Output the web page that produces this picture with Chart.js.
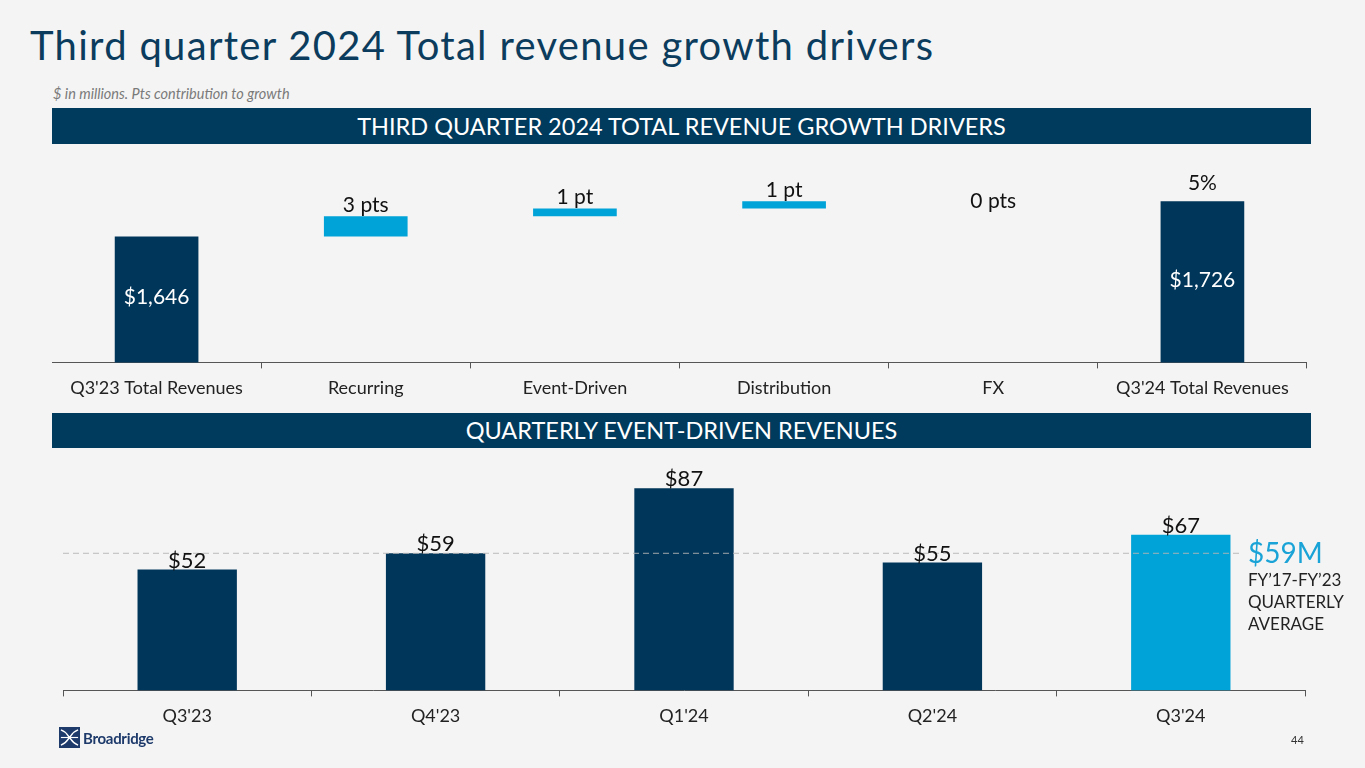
<!DOCTYPE html>
<html lang="en">
<head>
    <meta charset="UTF-8">
    <title>Third quarter 2024 Total revenue growth drivers</title>
    <style>
        body { margin: 0; background: #f4f4f4; font-family: Lato, "Open Sans", sans-serif; }
        #page { position: relative; width: 1365px; height: 768px; overflow: hidden; background: #f4f4f4; }
        h1 { position: absolute; left: 30px; top: 21px; margin: 0; font-size: 40px; font-weight: 400; color: #0b3c5d; letter-spacing: 1.3px; white-space: nowrap; }
        .sub { position: absolute; left: 53px; top: 85px; font-size: 14.5px; font-style: italic; color: #7a7a7a; }
        .banner { position: absolute; left: 52px; width: 1259px; height: 36px; background: #003a5c; color: #fff;
                  font-size: 23.5px; line-height: 36px; text-align: center; }
        .box { position: absolute; }
        .logo { position: absolute; left: 59px; top: 727px; display: flex; align-items: center; }
        .logo span { font-size: 15px; font-weight: 700; color: #1d3a6b; margin-left: 3px; letter-spacing: -0.3px; }
        .pg { position: absolute; left: 1291px; top: 733px; font-size: 11px; color: #333; }
    </style>
</head>
<body>
<div id="page">
    <h1>Third quarter 2024 Total revenue growth drivers</h1>
    <div class="sub">$ in millions. Pts contribution to growth</div>
    <div class="banner" style="top:108px">THIRD QUARTER 2024 TOTAL REVENUE GROWTH DRIVERS</div>
    <div class="box" style="left:52px; top:150px; width:1255px; height:258px;"><canvas id="bridge"></canvas></div>
    <div class="banner" style="top:413px; height:35px; line-height:35px;">QUARTERLY EVENT-DRIVEN REVENUES</div>
    <div class="box" style="left:63px; top:448px; width:1302px; height:288px;"><canvas id="quarterly"></canvas></div>
    <div class="logo">
        <svg width="21" height="21" viewBox="0 0 22 22">
            <rect width="22" height="22" fill="#1d3a6b"/>
            <path d="M2 3 C8 5 9 9 11 11 C13 9 14 5 20 3" stroke="#fff" stroke-width="1.6" fill="none"/>
            <path d="M2 19 C8 17 9 13 11 11 C13 13 14 17 20 19" stroke="#fff" stroke-width="1.6" fill="none"/>
            <path d="M2 11 L20 11" stroke="#fff" stroke-width="1.2"/>
        </svg>
        <span>Broadridge</span>
    </div>
    <div class="pg">44</div>
</div>

<script src="https://cdn.jsdelivr.net/npm/chart.js"></script>
<script>
    // Growth bridge (floating bars: [start, end])
    const bridgeCategories = ["Q3'23 Total Revenues", 'Recurring', 'Event-Driven', 'Distribution', 'FX', "Q3'24 Total Revenues"];
    const bridgeValues = [[0, 1646], [1646, 1692], [1692, 1710], [1710, 1726], [1726, 1726], [0, 1726]];
    const bridgeTopLabels = ['', '3 pts', '1 pt', '1 pt', '0 pts', '5%'];
    const bridgeInnerLabels = ['$1,646', '', '', '', '', '$1,726'];
    const bridgeIsTotal = [true, false, false, false, false, true];

    // Quarterly event-driven revenues
    const quarters = ["Q3'23", "Q4'23", "Q1'24", "Q2'24", "Q3'24"];
    const eventDriven = [52, 59, 87, 55, 67];
    const eventLabels = ['$52', '$59', '$87', '$55', '$67'];
    const quarterlyAverage = 59;
    const averageText = ['$59M', 'FY\u201917-FY\u201923', 'QUARTERLY', 'AVERAGE'];

    const NAVY = '#00365a';
    const BLUE = '#00a3d7';
    const FONT = 'Lato, "Open Sans", sans-serif';

    Chart.defaults.font.family = FONT;
    Chart.defaults.animation = false;

    const xAxis = {
        grid: { drawOnChartArea: false, drawTicks: true, tickLength: 6, color: '#555', offset: true },
        border: { display: true, color: '#555', width: 1 },
        ticks: { color: '#222', font: { size: 18 }, padding: 9, maxRotation: 0, autoSkip: false }
    };

    const bridgeLabels = {
        id: 'bridgeLabels',
        afterDatasetsDraw(chart) {
            const ctx = chart.ctx;
            const meta = chart.getDatasetMeta(0);
            const y = chart.scales.y;
            ctx.save();
            ctx.textAlign = 'center';
            ctx.font = '21px ' + FONT;
            meta.data.forEach((bar, i) => {
                const v = bridgeValues[i];
                const top = y.getPixelForValue(Math.max(v[0], v[1]));
                if (bridgeTopLabels[i]) {
                    ctx.fillStyle = '#111';
                    if (v[0] === v[1]) {
                        ctx.textBaseline = 'middle';
                        ctx.fillText(bridgeTopLabels[i], bar.x, top);
                    } else {
                        ctx.textBaseline = 'alphabetic';
                        ctx.fillText(bridgeTopLabels[i], bar.x, top - (bridgeIsTotal[i] ? 11 : 4));
                    }
                }
                if (bridgeInnerLabels[i]) {
                    ctx.fillStyle = '#fff';
                    ctx.textBaseline = 'middle';
                    ctx.fillText(bridgeInnerLabels[i], bar.x, (top + chart.chartArea.bottom) / 2 - 2);
                }
            });
            ctx.restore();
        }
    };

    new Chart(document.getElementById('bridge'), {
        type: 'bar',
        data: {
            labels: bridgeCategories,
            datasets: [{
                data: bridgeValues,
                backgroundColor: bridgeIsTotal.map(t => t ? NAVY : BLUE),
                barPercentage: 0.4,
                categoryPercentage: 1
            }]
        },
        options: {
            responsive: true,
            maintainAspectRatio: false,
            layout: { padding: { top: 10, bottom: 0, left: 0, right: 0 } },
            plugins: { legend: { display: false }, tooltip: { enabled: false } },
            scales: {
                x: xAxis,
                y: { display: false, min: 1360, max: 1820 }
            }
        },
        plugins: [bridgeLabels]
    });

    const quarterlyExtras = {
        id: 'quarterlyExtras',
        afterDatasetsDraw(chart) {
            const ctx = chart.ctx;
            const meta = chart.getDatasetMeta(0);
            const area = chart.chartArea;
            const ay = chart.scales.y.getPixelForValue(quarterlyAverage);
            const textX = area.right - 57;
            ctx.save();
            // dashed average line
            ctx.strokeStyle = 'rgba(180,180,180,0.9)';
            ctx.lineWidth = 1;
            ctx.setLineDash([6, 4]);
            ctx.beginPath();
            ctx.moveTo(area.left, ay);
            ctx.lineTo(textX - 6, ay);
            ctx.stroke();
            ctx.setLineDash([]);
            // value labels
            ctx.textAlign = 'center';
            ctx.textBaseline = 'alphabetic';
            ctx.font = '22px ' + FONT;
            ctx.fillStyle = '#111';
            meta.data.forEach((bar, i) => {
                ctx.fillText(eventLabels[i], bar.x, bar.y - 2);
            });
            // average annotation
            ctx.textAlign = 'left';
            ctx.textBaseline = 'middle';
            ctx.font = '28px ' + FONT;
            ctx.fillStyle = '#1aa3d6';
            ctx.fillText(averageText[0], textX, ay + 1);
            ctx.font = '17px ' + FONT;
            ctx.fillStyle = '#222';
            for (let i = 1; i < averageText.length; i++) {
                ctx.fillText(averageText[i], textX, ay + 5 + i * 22);
            }
            ctx.restore();
        }
    };

    new Chart(document.getElementById('quarterly'), {
        type: 'bar',
        data: {
            labels: quarters,
            datasets: [{
                data: eventDriven,
                backgroundColor: quarters.map((q, i) => i === quarters.length - 1 ? BLUE : NAVY),
                barPercentage: 0.4,
                categoryPercentage: 1
            }]
        },
        options: {
            responsive: true,
            maintainAspectRatio: false,
            layout: { padding: { top: 10, bottom: 0, left: 0, right: 60 } },
            plugins: { legend: { display: false }, tooltip: { enabled: false } },
            scales: {
                x: xAxis,
                y: { display: false, min: 0, max: 100 }
            }
        },
        plugins: [quarterlyExtras]
    });
</script>
</body>
</html>
